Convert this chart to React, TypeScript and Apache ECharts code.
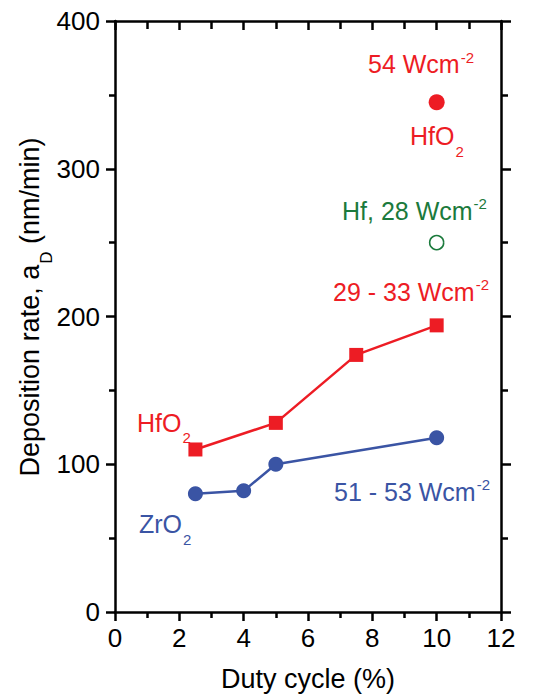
import React, { useEffect, useRef } from "react";
import * as echarts from "echarts";

// ---- data ----
const hfo2X = [2.5, 5, 7.5, 10];
const hfo2Y = [110, 128, 174, 194];
const zro2X = [2.5, 4, 5, 10];
const zro2Y = [80, 82, 100, 118];
const hfo2HighX = [10];
const hfo2HighY = [345];
const hfX = [10];
const hfY = [250];

const xTickMin = 0;
const xTickMax = 12;
const xTickStep = 2;
const yTickMin = 0;
const yTickMax = 400;
const yTickStep = 100;

const xTitle = "Duty cycle (%)";

const RED = "#ED1C24";
const BLUE = "#3A54A4";
const GREEN = "#1B7A3C";
const FONT = "Liberation Sans";

type Kind = "n" | "sub" | "sup";
type Part = [string, Kind];

const annotations: { parts: Part[]; x: number; y: number; color: string }[] = [
  { parts: [["54 Wcm", "n"], ["-2", "sup"]], x: 368, y: 64, color: RED },
  { parts: [["HfO", "n"], ["2", "sub"]], x: 410, y: 136, color: RED },
  { parts: [["Hf, 28 Wcm", "n"], ["-2", "sup"]], x: 342, y: 210.5, color: GREEN },
  { parts: [["29 - 33 Wcm", "n"], ["-2", "sup"]], x: 333, y: 291.5, color: RED },
  { parts: [["HfO", "n"], ["2", "sub"]], x: 137, y: 422.5, color: RED },
  { parts: [["51 - 53 Wcm", "n"], ["-2", "sup"]], x: 334, y: 491.5, color: BLUE },
  { parts: [["ZrO", "n"], ["2", "sub"]], x: 139, y: 524, color: BLUE },
];

const yTitleParts: Part[] = [
  ["Deposition rate, a", "n"],
  ["D", "sub"],
  [" (nm/min)", "n"],
];

let ctx: CanvasRenderingContext2D | null = null;
function measure(text: string, size: number): number {
  if (!ctx) ctx = document.createElement("canvas").getContext("2d");
  if (!ctx) return text.length * size * 0.55;
  ctx.font = `${size}px "${FONT}", Arial, sans-serif`;
  return ctx.measureText(text).width;
}

function buildChildren(parts: Part[], size: number, small: number, color: string) {
  const children: any[] = [];
  let cx = 0;
  for (const [t, k] of parts) {
    const fs = k === "n" ? size : small;
    const dy = k === "n" ? 0 : k === "sub" ? size * 0.6 : -size * 0.28;
    if (k !== "n") cx += 1;
    children.push({
      type: "text",
      x: cx,
      y: dy,
      style: {
        text: t,
        fill: color,
        fontSize: fs,
        fontFamily: FONT,
        textAlign: "left",
        textVerticalAlign: "middle",
        verticalAlign: "middle",
      },
    });
    cx += measure(t, fs);
  }
  return { children, width: cx };
}

export default function App() {
  const ref = useRef<HTMLDivElement>(null);
  useEffect(() => {
    if (!ref.current) return;
    const chart = echarts.init(ref.current, undefined, { renderer: "svg" });

    const graphics: any[] = annotations.map((a) => {
      const { children } = buildChildren(a.parts, 25, 15, a.color);
      return { type: "group", x: a.x, y: a.y, children };
    });
    const yt = buildChildren(yTitleParts, 27, 17, "#000");
    yt.children.forEach((c) => (c.x -= yt.width / 2));
    graphics.push({
      type: "group",
      x: 30,
      y: 307,
      rotation: Math.PI / 2,
      children: yt.children,
    });

    const axisLine = { show: true, onZero: false, lineStyle: { color: "#000", width: 2.5 } };
    const tickStyle = { color: "#000", width: 2.5 };

    chart.setOption({
      animation: false,
      backgroundColor: "#fff",
      textStyle: { fontFamily: FONT },
      grid: { left: 115, right: 48, top: 21, bottom: 87, containLabel: false },
      xAxis: [
        {
          type: "value",
          position: "bottom",
          min: xTickMin,
          max: xTickMax,
          interval: xTickStep,
          axisLine,
          axisTick: { show: true, inside: false, length: 9, lineStyle: tickStyle },
          minorTick: { show: true, splitNumber: 2, length: 6, lineStyle: tickStyle },
          splitLine: { show: false },
          minorSplitLine: { show: false },
          axisLabel: { show: true, color: "#000", fontSize: 26, fontFamily: FONT, margin: 13 },
          name: xTitle,
          nameLocation: "middle",
          nameGap: 53,
          nameTextStyle: { color: "#000", fontSize: 27, fontFamily: FONT },
        },
        {
          type: "value",
          position: "top",
          min: xTickMin,
          max: xTickMax,
          interval: xTickStep,
          axisLine,
          axisTick: { show: true, inside: true, length: 9, lineStyle: tickStyle },
          minorTick: { show: true, splitNumber: 2, length: 8, lineStyle: tickStyle },
          splitLine: { show: false },
          minorSplitLine: { show: false },
          axisLabel: { show: false },
        },
      ],
      yAxis: [
        {
          type: "value",
          position: "left",
          min: yTickMin,
          max: yTickMax,
          interval: yTickStep,
          axisLine,
          axisTick: { show: true, inside: false, length: 9, lineStyle: tickStyle },
          minorTick: { show: true, splitNumber: 2, length: 6, lineStyle: tickStyle },
          splitLine: { show: false },
          minorSplitLine: { show: false },
          axisLabel: { show: true, color: "#000", fontSize: 26, fontFamily: FONT, margin: 15 },
        },
        {
          type: "value",
          position: "right",
          min: yTickMin,
          max: yTickMax,
          interval: yTickStep,
          axisLine,
          axisTick: { show: true, inside: false, length: 10, lineStyle: tickStyle },
          minorTick: { show: true, splitNumber: 2, length: 7, lineStyle: tickStyle },
          splitLine: { show: false },
          minorSplitLine: { show: false },
          axisLabel: { show: false },
        },
      ],
      series: [
        {
          name: "HfO2",
          type: "line",
          xAxisIndex: 0,
          yAxisIndex: 0,
          data: hfo2X.map((x, i) => [x, hfo2Y[i]]),
          symbol: "rect",
          symbolSize: 14,
          itemStyle: { color: RED, opacity: 1 },
          lineStyle: { color: RED, width: 2.5 },
        },
        {
          name: "ZrO2",
          type: "line",
          xAxisIndex: 0,
          yAxisIndex: 0,
          data: zro2X.map((x, i) => [x, zro2Y[i]]),
          symbol: "circle",
          symbolSize: 15,
          itemStyle: { color: BLUE, opacity: 1 },
          lineStyle: { color: BLUE, width: 2.5 },
        },
        {
          name: "HfO2 54",
          type: "scatter",
          xAxisIndex: 0,
          yAxisIndex: 0,
          data: hfo2HighX.map((x, i) => [x, hfo2HighY[i]]),
          symbol: "circle",
          symbolSize: 16,
          itemStyle: { color: RED, opacity: 1 },
        },
        {
          name: "Hf 28",
          type: "scatter",
          xAxisIndex: 0,
          yAxisIndex: 0,
          data: hfX.map((x, i) => [x, hfY[i]]),
          symbol: "circle",
          symbolSize: 14,
          itemStyle: { color: "#fff", borderColor: GREEN, borderWidth: 1.6, opacity: 1 },
        },
      ],
      graphic: graphics,
    });

    return () => chart.dispose();
  }, []);

  return (
    <div
      ref={ref}
      style={{ position: "fixed", left: 0, top: 0, width: 549, height: 699, background: "#fff" }}
    />
  );
}
